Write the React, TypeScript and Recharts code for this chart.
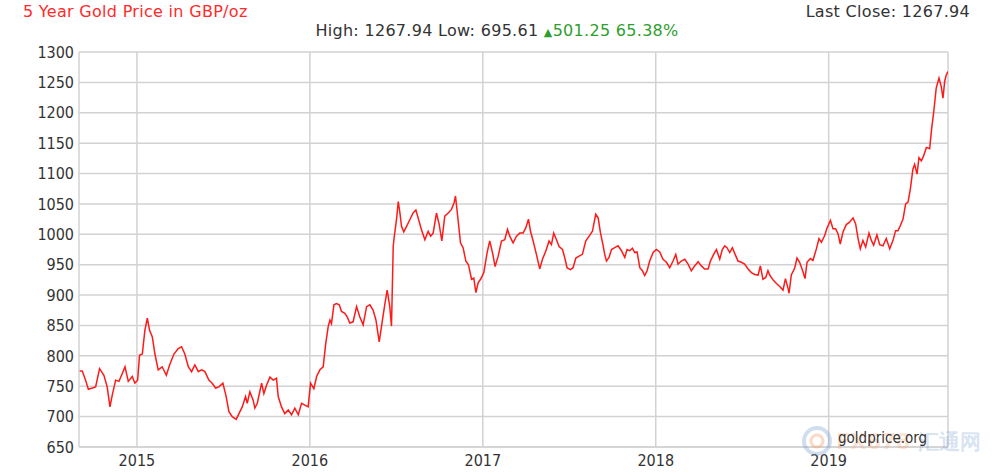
import { LineChart, Line, XAxis, YAxis, CartesianGrid, ReferenceLine } from 'recharts';

// decimal year of each reading
const years = [
  2014.665, 2014.684, 2014.703, 2014.719, 2014.742, 2014.761, 2014.784, 2014.809, 2014.828, 2014.844,
  2014.857, 2014.877, 2014.896, 2014.911, 2014.931, 2014.95, 2014.973, 2014.988, 2015.004, 2015.015,
  2015.031, 2015.046, 2015.06, 2015.073, 2015.089, 2015.104, 2015.123, 2015.146, 2015.17, 2015.189,
  2015.214, 2015.239, 2015.258, 2015.277, 2015.297, 2015.316, 2015.335, 2015.355, 2015.374, 2015.393,
  2015.416, 2015.435, 2015.455, 2015.474, 2015.497, 2015.516, 2015.532, 2015.551, 2015.574, 2015.59,
  2015.609, 2015.628, 2015.638, 2015.653, 2015.672, 2015.682, 2015.696, 2015.721, 2015.734, 2015.75,
  2015.769, 2015.788, 2015.807, 2015.817, 2015.836, 2015.855, 2015.875, 2015.894, 2015.913, 2015.933,
  2015.952, 2015.971, 2015.99, 2016.004, 2016.023, 2016.039, 2016.058, 2016.077, 2016.092, 2016.106,
  2016.116, 2016.125, 2016.139, 2016.154, 2016.17, 2016.183, 2016.202, 2016.216, 2016.231, 2016.25,
  2016.27, 2016.289, 2016.308, 2016.328, 2016.347, 2016.366, 2016.382, 2016.401, 2016.414, 2016.434,
  2016.447, 2016.462, 2016.472, 2016.482, 2016.487, 2016.501, 2016.511, 2016.52, 2016.53, 2016.543,
  2016.559, 2016.578, 2016.597, 2016.613, 2016.626, 2016.645, 2016.665, 2016.684, 2016.698, 2016.713,
  2016.732, 2016.748, 2016.763, 2016.78, 2016.8, 2016.819, 2016.834, 2016.842, 2016.857, 2016.871,
  2016.886, 2016.902, 2016.917, 2016.935, 2016.948, 2016.96, 2016.973, 2016.987, 2017.006, 2017.025,
  2017.04, 2017.056, 2017.071, 2017.089, 2017.108, 2017.127, 2017.143, 2017.156, 2017.175, 2017.195,
  2017.214, 2017.233, 2017.249, 2017.264, 2017.276, 2017.291, 2017.31, 2017.329, 2017.345, 2017.364,
  2017.383, 2017.397, 2017.41, 2017.426, 2017.441, 2017.461, 2017.476, 2017.487, 2017.507, 2017.522,
  2017.538, 2017.557, 2017.576, 2017.595, 2017.615, 2017.634, 2017.653, 2017.667, 2017.68, 2017.696,
  2017.705, 2017.715, 2017.73, 2017.744, 2017.763, 2017.782, 2017.802, 2017.821, 2017.834, 2017.85,
  2017.865, 2017.879, 2017.892, 2017.908, 2017.923, 2017.936, 2017.95, 2017.965, 2017.985, 2018.004,
  2018.023, 2018.042, 2018.062, 2018.081, 2018.1, 2018.116, 2018.129, 2018.148, 2018.168, 2018.187,
  2018.206, 2018.225, 2018.245, 2018.264, 2018.283, 2018.303, 2018.316, 2018.335, 2018.351, 2018.37,
  2018.385, 2018.399, 2018.412, 2018.428, 2018.443, 2018.459, 2018.476, 2018.495, 2018.514, 2018.534,
  2018.553, 2018.572, 2018.592, 2018.605, 2018.62, 2018.636, 2018.649, 2018.659, 2018.678, 2018.698,
  2018.717, 2018.736, 2018.75, 2018.765, 2018.771, 2018.784, 2018.803, 2018.817, 2018.832, 2018.852,
  2018.863, 2018.875, 2018.894, 2018.909, 2018.929, 2018.944, 2018.958, 2018.977, 2018.99, 2019.01,
  2019.025, 2019.04, 2019.054, 2019.067, 2019.083, 2019.102, 2019.121, 2019.141, 2019.156, 2019.17,
  2019.183, 2019.198, 2019.214, 2019.233, 2019.247, 2019.26, 2019.279, 2019.295, 2019.314, 2019.333,
  2019.353, 2019.372, 2019.387, 2019.401, 2019.414, 2019.43, 2019.445, 2019.459, 2019.472, 2019.487,
  2019.497, 2019.511, 2019.522, 2019.536, 2019.549, 2019.565, 2019.584, 2019.595, 2019.607, 2019.622,
  2019.638, 2019.651, 2019.661, 2019.671, 2019.68, 2019.69,
];

// gold price, GBP per troy ounce
const prices = [
  775, 775, 760, 745, 747, 749, 779, 768, 749, 716,
  735, 760, 758, 768, 782, 758, 766, 755, 760, 801,
  803, 842, 862, 842, 831, 803, 777, 782, 768, 785,
  803, 812, 815, 803, 782, 774, 785, 774, 777, 774,
  760, 755, 747, 749, 755, 733, 708, 700, 695.61, 705,
  716, 733, 722, 741, 727, 714, 722, 755, 738, 752,
  765, 760, 763, 733, 716, 705, 711, 703, 714, 703,
  722, 719, 716, 755, 746, 766, 777, 782, 821, 848,
  859, 853, 884, 886, 884, 873, 870, 864, 854, 856,
  881, 864, 851, 881, 884, 875, 859, 823, 848, 886,
  908, 881, 849, 980, 994, 1024, 1054, 1037, 1013, 1004,
  1013, 1024, 1035, 1040, 1027, 1008, 991, 1005, 997, 1002,
  1035, 1016, 989, 1030, 1035, 1041, 1052, 1063, 1024, 986,
  978, 956, 950, 926, 928, 904, 920, 926, 937, 970,
  989, 970, 947, 964, 989, 991, 1008, 997, 986, 997,
  1002, 1002, 1011, 1025, 1005, 989, 967, 943, 959, 972,
  989, 983, 1002, 991, 980, 975, 959, 945, 942, 945,
  961, 964, 967, 989, 997, 1005, 1033, 1027, 1003, 981,
  967, 956, 962, 975, 978, 981, 973, 962, 975, 973,
  977, 970, 971, 945, 940, 932, 940, 956, 970, 975,
  971, 959, 954, 945, 956, 967, 951, 956, 959, 951,
  940, 948, 955, 948, 943, 943, 956, 967, 975, 959,
  975, 981, 978, 970, 978, 967, 956, 954, 951, 943,
  937, 934, 933, 948, 926, 929, 940, 933, 925, 919,
  914, 908, 927, 911, 903, 933, 944, 961, 954, 938,
  927, 954, 960, 957, 976, 993, 987, 998, 1010, 1023,
  1009, 1009, 1001, 984, 1004, 1016, 1020, 1027, 1017, 993,
  976, 990, 979, 1002, 990, 982, 999, 983, 981, 993,
  976, 990, 1006, 1006, 1014, 1025, 1050, 1053, 1074, 1107,
  1115, 1099, 1126, 1121, 1129, 1143, 1141, 1173, 1200, 1241,
  1257, 1243, 1224, 1252, 1262, 1267.94,
];

const yearTicks = [2015, 2016, 2017, 2018, 2019];
const priceTicks = [650, 700, 750, 800, 850, 900, 950, 1000, 1050, 1100, 1150, 1200, 1250, 1300];

const data = years.map((t, i) => ({ t, price: prices[i] }));

const axisFont = '"DejaVu Sans Condensed", "DejaVu Sans", sans-serif';
const headFont = '"DejaVu Sans", sans-serif';
const gridColor = '#d2d2d2';
const xMin = 2014.665;
const xMax = 2019.69;

const App = () => {
  return (
    <div style={{ position: 'fixed', left: 0, top: 0, width: 999, height: 473, background: '#fff', fontFamily: headFont }}>
      <div style={{ position: 'absolute', left: 23, top: 2, fontSize: 16, letterSpacing: 0.3, color: '#ff2a2a', whiteSpace: 'nowrap' }}>
        5 Year Gold Price in GBP/oz
      </div>
      <div style={{ position: 'absolute', right: 29, top: 2, fontSize: 16, letterSpacing: 0.3, color: '#333', whiteSpace: 'nowrap' }}>
        Last Close: 1267.94
      </div>
      <div style={{ position: 'absolute', left: 0, width: 994, top: 21, fontSize: 16, letterSpacing: 0.3, color: '#333', textAlign: 'center', whiteSpace: 'nowrap' }}>
        High: 1267.94 Low: 695.61 <span style={{ color: '#2e9e2e' }}><span style={{ fontSize: 11 }}>▲</span>501.25 65.38%</span>
      </div>
      <LineChart width={999} height={473} data={data} margin={{ top: 52, right: 51, left: 0, bottom: 0 }}>
        <CartesianGrid stroke={gridColor} strokeWidth={1.5} horizontalValues={priceTicks} verticalValues={yearTicks} />
        <XAxis
          dataKey="t"
          type="number"
          domain={[xMin, xMax]}
          ticks={yearTicks}
          allowDataOverflow
          height={26}
          tickLine={false}
          tickSize={0}
          tickMargin={8}
          axisLine={{ stroke: gridColor, strokeWidth: 1.5 }}
          tick={{ fill: '#333', fontSize: 16, fontFamily: axisFont }}
        />
        <YAxis
          type="number"
          domain={[650, 1300]}
          ticks={priceTicks}
          width={79}
          tickLine={false}
          tickSize={0}
          tickMargin={5}
          axisLine={{ stroke: gridColor, strokeWidth: 1.5 }}
          tick={{ fill: '#333', fontSize: 16, fontFamily: axisFont }}
        />
        <ReferenceLine x={xMax} stroke={gridColor} strokeWidth={1.5} />
        <Line
          type="linear"
          dataKey="price"
          stroke="#ff1a1a"
          strokeWidth={1.5}
          dot={false}
          isAnimationActive={false}
        />
      </LineChart>
      <svg style={{ position: 'absolute', left: 800, top: 424 }} width={34} height={34}>
        <circle cx={17} cy={17} r={13} fill="none" stroke="rgba(120,160,210,0.35)" strokeWidth={4} />
        <circle cx={17} cy={17} r={6} fill="none" stroke="rgba(245,160,110,0.4)" strokeWidth={3} />
      </svg>
      <div style={{ position: 'absolute', left: 836, top: 428, fontSize: 21, fontWeight: 'bold', color: 'rgba(245,160,110,0.3)', whiteSpace: 'nowrap' }}>
        FX678 <span style={{ color: 'rgba(120,160,210,0.3)' }}>汇通网</span>
      </div>
      <div style={{ position: 'absolute', left: 838, top: 429, fontSize: 15, fontFamily: axisFont, color: '#333', whiteSpace: 'nowrap' }}>
        goldprice.org
      </div>
    </div>
  );
};

export default App;
